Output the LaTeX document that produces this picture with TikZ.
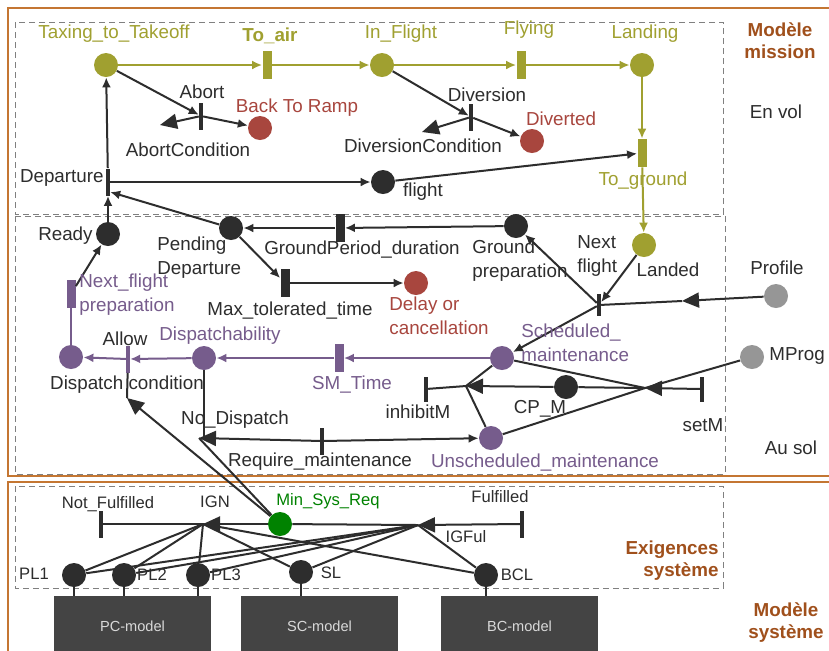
\documentclass[tikz,border=0pt]{standalone}
\usepackage{fontspec}
\setmainfont{Liberation Sans}
\usetikzlibrary{arrows.meta}
\definecolor{olivepn}{RGB}{160,160,48}
\definecolor{redpn}{RGB}{168,70,62}
\definecolor{purplepn}{RGB}{118,92,140}
\definecolor{darkpn}{RGB}{45,45,45}
\definecolor{greypn}{RGB}{150,150,150}
\definecolor{greenpn}{RGB}{0,130,0}
\definecolor{frameorange}{RGB}{196,118,50}
\definecolor{titlebrown}{RGB}{160,80,28}
\definecolor{boxgrey}{RGB}{68,68,68}
\begin{document}
\begin{tikzpicture}[x=0.5pt,y=-0.5pt,
        place/.style={circle,fill=#1,minimum size=12pt,inner sep=0pt},
        trans/.style={rectangle,fill=#1,minimum width=4.5pt,minimum height=14pt,inner sep=0pt},
        bar/.style={rectangle,fill=#1,minimum width=1.8pt,minimum height=13.5pt,inner sep=0pt},
        lbl/.style={font=\fontsize{9.4}{12}\selectfont,text=#1,inner sep=0pt},
        lbl/.default=darkpn,
        sml/.style={font=\fontsize{8.3}{10}\selectfont,text=#1,inner sep=0pt},
        sml/.default=darkpn,
        head/.style={lbl=titlebrown,font=\fontsize{9.4}{11}\selectfont\bfseries,align=center},
        mbox/.style={rectangle,fill=boxgrey,text=white!85!black,font=\fontsize{7.3}{9}\selectfont,
            minimum width=78.5pt,minimum height=30pt,anchor=north,inner sep=0pt},
        link/.style={draw=darkpn,line width=1pt},
        plink/.style={draw=purplepn,line width=1pt},
        arr/.style={link,-{Latex[length=5pt,width=4.5pt]}},
        oarr/.style={draw=olivepn,line width=1pt,-{Latex[length=5pt,width=4.5pt]}},
        parr/.style={plink,-{Latex[length=5pt,width=4.5pt]}},
        tst/.style={link,-{Triangle[length=8.5pt,width=7.5pt]}}]
        \fill[white] (0,0) rectangle (829,650);
        \useasboundingbox (0,0) rectangle (829,650);
        \clip (0,0) rectangle (829,650);
        \draw[frameorange,line width=1.3pt] (8,8) rectangle (845,476);
        \draw[frameorange,line width=1.3pt] (8,482) rectangle (845,670);
        \draw[gray,densely dashed,line width=0.4pt] (15,22) rectangle (723,214);
        \draw[gray,densely dashed,line width=0.4pt] (15,216) rectangle (725,474);
        \draw[gray,densely dashed,line width=0.4pt] (15,486) rectangle (723,588);

        \node[place=olivepn] (tto) at (106,65) {};
        \node[trans=olivepn] (toair) at (267,65) {};
        \node[place=olivepn] (infl) at (382,65) {};
        \node[trans=olivepn] (flying) at (521,65) {};
        \node[place=olivepn] (landing) at (642,65) {};
        \node[trans=olivepn] (toground) at (642,153) {};
        \node[place=olivepn] (landed) at (644,245) {};
        \node[bar=darkpn] (abort) at (201,116) {};
        \node[place=redpn] (ramp) at (260,128) {};
        \coordinate (abortc) at (160,125);
        \node[bar=darkpn] (diversion) at (471,117) {};
        \node[place=redpn] (diverted) at (532,141) {};
        \coordinate (diversionc) at (422,132);
        \node[bar=darkpn] (departure) at (108,182) {};
        \node[place=darkpn] (flight) at (383,182) {};
        \node[place=darkpn] (ready) at (108,234) {};
        \node[place=darkpn] (pending) at (231,228) {};
        \node[trans=darkpn] (gpd) at (340,228) {};
        \node[place=darkpn] (groundprep) at (516,226) {};
        \node[trans=darkpn] (maxtol) at (285,283) {};
        \node[place=redpn] (delay) at (416,283) {};
        \node[bar=darkpn,minimum height=11pt] (nextflight) at (599,305) {};
        \node[place=greypn] (profile) at (776,296) {};
        \coordinate (profilec) at (682,301);
        \node[place=purplepn] (sched) at (502,358) {};
        \node[trans=purplepn] (smtime) at (339,358) {};
        \node[place=purplepn] (dispatchab) at (204,358) {};
        \node[bar=purplepn] (allow) at (128,359) {};
        \coordinate (allowc) at (127,398);
        \node[place=purplepn] (dispatch) at (71,357) {};
        \node[trans=purplepn] (nfp) at (71,294) {};
        \coordinate (nodispc) at (199,438);
        \node[bar=darkpn] (reqmaint) at (322,441) {};
        \node[place=purplepn] (unsched) at (491,438) {};
        \node[place=darkpn] (cpm) at (566,387) {};
        \node[bar=darkpn,minimum height=12.5pt] (inhibit) at (426,389) {};
        \node[bar=darkpn,minimum height=12.5pt] (setm) at (702,389) {};
        \coordinate (inhibc) at (466,386);
        \coordinate (setc) at (645,388);
        \node[place=greypn] (mprog) at (752,357) {};

        \node[bar=darkpn] (notful) at (101,524) {};
        \coordinate (ign) at (203,524);
        \node[place=greenpn] (minsys) at (280,524) {};
        \coordinate (igful) at (418,525);
        \node[bar=darkpn] (ful) at (522,524) {};
        \node[place=darkpn] (pl1) at (74,575) {};
        \node[place=darkpn] (pl2) at (124,575) {};
        \node[place=darkpn] (pl3) at (198,575) {};
        \node[place=darkpn] (sl) at (301,572) {};
        \node[place=darkpn] (bcl) at (486,575) {};
        \node[mbox] (pcm) at (132.5,596) {PC-model};
        \node[mbox] (scm) at (319.5,596) {SC-model};
        \node[mbox] (bcm) at (519.5,596) {BC-model};

        \draw[oarr] (tto) -- (toair);
        \draw[oarr] (toair) -- (infl);
        \draw[oarr] (infl) -- (flying);
        \draw[oarr] (flying) -- (landing);
        \draw[oarr] (landing) -- (toground);
        \draw[oarr] (toground) -- (landed);
        \draw[arr] (tto) -- (abort);
        \draw[arr] (abort) -- (ramp);
        \draw[tst] (abort) -- (abortc);
        \draw[arr] (infl) -- (diversion);
        \draw[arr] (diversion) -- (diverted);
        \draw[tst] (diversion) -- (diversionc);
        \draw[arr] (departure) -- (tto);
        \draw[arr] (ready) -- (departure);
        \draw[arr] (pending) -- ([yshift=-5pt]departure.east);
        \draw[arr] (departure) -- (flight);
        \draw[arr] (flight) -- (toground);
        \draw[arr] (groundprep) -- (gpd);
        \draw[arr] (gpd) -- (pending);
        \draw[arr] (pending) -- (maxtol);
        \draw[arr] (maxtol) -- (delay);
        \draw[arr] (landed) -- (nextflight);
        \draw[arr] (nextflight) -- (groundprep);
        \draw[arr] (nextflight) -- (sched);
        \draw[tst] (profile) -- (profilec);
        \draw[link] (profilec) -- (nextflight);
        \draw[parr] (sched) -- (smtime);
        \draw[parr] (smtime) -- (dispatchab);
        \draw[parr] (dispatchab) -- (allow);
        \draw[parr] (allow) -- (dispatch);
        \draw[plink] (dispatch) -- (nfp);
        \draw[arr] (nfp) -- (ready);
        \draw[link] (allow) -- (allowc);
        \draw[tst] (minsys) -- (allowc);
        \draw[link] (dispatchab) -- (dispatchab |- nodispc);
        \draw[tst] (reqmaint) -- (nodispc);
        \draw[link] (minsys) -- (nodispc);
        \draw[arr] (reqmaint) -- (unsched);
        \draw[tst] (cpm) -- (inhibc);
        \draw[link] (inhibc) -- (inhibit);
        \draw[link] (sched) -- (inhibc);
        \draw[link] (unsched) -- (inhibc);
        \draw[tst] (setm) -- (setc);
        \draw[link] (setc) -- (cpm);
        \draw[link] (setc) -- (sched);
        \draw[link] (setc) -- (unsched);
        \draw[link] (setc) -- (mprog);
        \draw[tst] (minsys) -- (ign);
        \draw[link] (ign) -- (notful);
        \draw[tst] (ful) -- (igful);
        \draw[link] (igful) -- (minsys);
        \foreach \p in {pl1,pl2,pl3,sl,bcl} {
            \draw[link] (ign) -- (\p);
            \draw[link] (igful) -- (\p);
        }
        \foreach \p/\m in {pl1/pcm,pl2/pcm,pl3/pcm,sl/scm,bcl/bcm}
            \draw[link] (\p) -- (\p |- \m.north);

        \node[lbl=olivepn] (t-tto) at (114,34) {Taxing\_to\_Takeoff};
        \node[lbl=olivepn,font=\fontsize{9.4}{12}\selectfont\bfseries] (t-toair) at (270,36) {To\_air};
        \node[lbl=olivepn] (t-infl) at (401,34) {In\_Flight};
        \node[lbl=olivepn] (t-flying) at (529,30) {Flying};
        \node[lbl=olivepn] (t-landing) at (645,34) {Landing};
        \node[lbl] (t-abort) at (202,92) {Abort};
        \node[lbl=redpn] (t-ramp) at (297,108) {Back To Ramp};
        \node[lbl] (t-abortc) at (188,150) {AbortCondition};
        \node[lbl] (t-diversion) at (487,95) {Diversion};
        \node[lbl=redpn] (t-diverted) at (561,119) {Diverted};
        \node[lbl] (t-diversionc) at (423,146) {DiversionCondition};
        \node[lbl,anchor=east] (t-departure) at (104,178) {Departure};
        \node[lbl] (t-flight) at (423,192) {flight};
        \node[lbl=olivepn] (t-toground) at (643,181) {To\_ground};
        \node[lbl,anchor=east] (t-ready) at (93,236) {Ready};
        \node[lbl,anchor=west,align=left] (t-pending) at (157,258) {Pending\\Departure};
        \node[lbl] (t-gpd) at (362,250) {GroundPeriod\_duration};
        \node[lbl,anchor=west,align=left] (t-groundprep) at (472,261) {Ground\\preparation};
        \node[lbl] (t-maxtol) at (290,311) {Max\_tolerated\_time};
        \node[lbl=redpn,anchor=west,align=left] (t-delay) at (389,316) {Delay or\\cancellation};
        \node[lbl,anchor=west,align=left] (t-nextflight) at (577,256) {Next\\flight};
        \node[lbl] (t-landed) at (668,270) {Landed};
        \node[lbl] (t-profile) at (777,268) {Profile};
        \node[lbl=purplepn,anchor=west,align=left] (t-sched) at (521,343) {Scheduled\_\\maintenance};
        \node[lbl,anchor=west] (t-mprog) at (769,356) {MProg};
        \node[lbl] (t-cpm) at (540,409) {CP\_M};
        \node[lbl] (t-inhibit) at (418,412) {inhibitM};
        \node[lbl] (t-setm) at (703,425) {setM};
        \node[lbl=purplepn] (t-unsched) at (545,463) {Unscheduled\_maintenance};
        \node[lbl] (t-reqmaint) at (320,462) {Require\_maintenance};
        \node[lbl] (t-nodisp) at (235,420) {No\_Dispatch};
        \node[lbl=purplepn] (t-smtime) at (352,385) {SM\_Time};
        \node[lbl] (t-dispatch) at (127,385) {Dispatch condition};
        \node[lbl] (t-allow) at (125,339) {Allow};
        \node[lbl=purplepn] (t-dispatchab) at (220,336) {Dispatchability};
        \node[lbl=purplepn,anchor=west,align=left] (t-nfp) at (79,295) {Next\_flight\\preparation};
        \node[lbl] (t-envol) at (776,112) {En vol};
        \node[lbl] (t-ausol) at (791,448) {Au sol};
        \node[head] (t-mission) at (780,41) {Modèle\\mission};
        \node[head,anchor=east,align=right] (t-exig) at (719,561) {Exigences\\système};
        \node[head] (t-systeme) at (786,623) {Modèle\\système};
        \node[sml] (t-notful) at (108,504) {Not\_Fulfilled};
        \node[sml] (t-ign) at (215,502) {IGN};
        \node[sml=greenpn] (t-minsys) at (328,501) {Min\_Sys\_Req};
        \node[sml] (t-ful) at (500,497) {Fulfilled};
        \node[sml] (t-igful) at (466,537) {IGFul};
        \node[sml] (t-pl1) at (34,574) {PL1};
        \node[sml] (t-pl2) at (152,575) {PL2};
        \node[sml] (t-pl3) at (226,575) {PL3};
        \node[sml] (t-sl) at (331,573) {SL};
        \node[sml] (t-bcl) at (517,575) {BCL};
\end{tikzpicture}
\end{document}
